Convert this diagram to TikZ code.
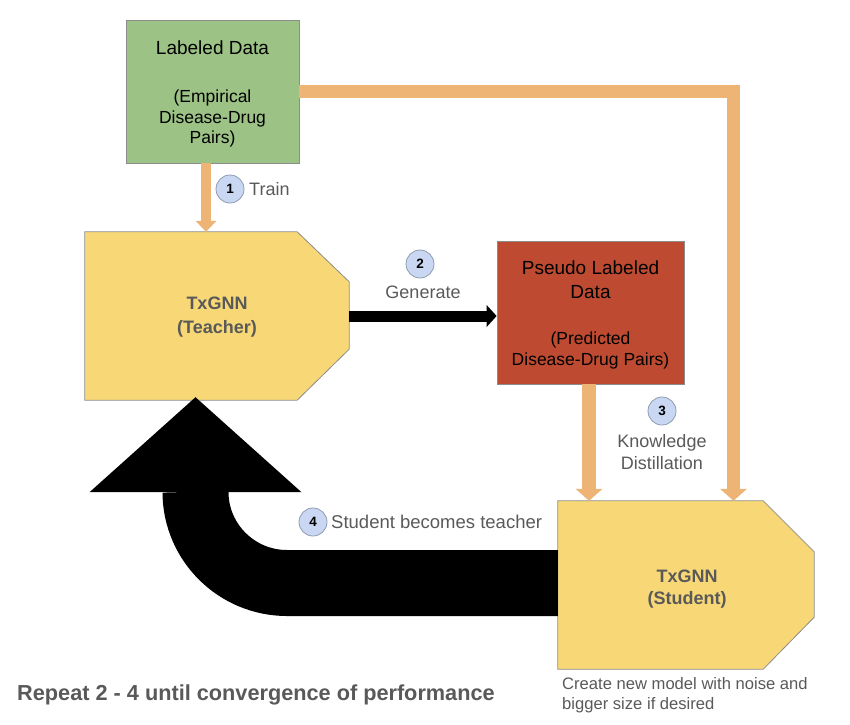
\documentclass[tikz,border=0pt]{standalone}
\usepackage{fontspec}
\setmainfont{Liberation Sans}
\usetikzlibrary{arrows.meta,backgrounds}
\definecolor{labgreen}{HTML}{9CC385}
\definecolor{pseudored}{HTML}{BE4B31}
\definecolor{txyellow}{HTML}{F8D876}
\definecolor{flow}{HTML}{EDB476}
\definecolor{edgegray}{HTML}{8C8C8C}
\definecolor{txtgray}{HTML}{595959}
\definecolor{circfill}{HTML}{C9D7F2}
\definecolor{circedge}{HTML}{8E9BB3}
\begin{document}
\begin{tikzpicture}[x=1pt,y=-1pt,
  databox/.style={draw=edgegray, line width=0.8pt, inner sep=0pt},
  datatext/.style={align=center, inner sep=0pt, font=\fontsize{17.5}{20.5}\selectfont},
  modelbox/.style={inner sep=0pt},
  modeltext/.style={align=center, inner sep=0pt, text=txtgray},
  modelshape/.style={fill=txyellow, draw=edgegray, line width=0.8pt, line join=miter},
  stepnum/.style={circle, draw=circedge, line width=0.8pt, fill=circfill,
    minimum size=28pt, inner sep=0pt, font=\bfseries\fontsize{13.5}{13.5}\selectfont},
  steplbl/.style={text=txtgray, inner sep=0pt, font=\fontsize{18}{22}\selectfont},
  flowarrow/.style={draw=flow, line width=13.5pt,
    -{Triangle[width=27pt,length=12pt,line width=0pt]}},
  trainarrow/.style={draw=flow, line width=10pt,
    -{Triangle[width=21pt,length=11pt,line width=0pt]}},
  genarrow/.style={draw=black, line width=11pt,
    -{Triangle[width=22pt,length=10pt,line width=0pt]}},
  bigarrow/.style={draw=black, line width=66pt,
    -{Triangle[width=212pt,length=95pt,line width=0pt]}},
  notetext/.style={text=txtgray, inner sep=0pt}
]
\useasboundingbox (0,0) rectangle (850,724);

% data boxes
\node[databox, fill=labgreen, minimum width=173pt, minimum height=143pt] (lab) at (212.5,91.5) {};
\node[datatext] (labtext) at (212.5,94)
  {{\fontsize{19}{20.5}\selectfont Labeled Data}\\[27.5pt](Empirical\\Disease-Drug\\Pairs)};
\node[databox, fill=pseudored, minimum width=187pt, minimum height=143pt] (red) at (590.5,312.5) {};
\node[datatext] (redtext) at (590.5,315)
  {{\fontsize{19}{20.5}\selectfont Pseudo Labeled}\\[3.5pt]{\fontsize{19}{20.5}\selectfont Data}\\[25.5pt](Predicted\\Disease-Drug Pairs)};

% model boxes
\node[modelbox, minimum width=264pt, minimum height=168pt] (teach) at (217,316) {};
\node[modelbox, minimum width=256pt, minimum height=168pt] (stud) at (686,585) {};

\begin{scope}[on background layer]
  \draw[modelshape] (teach.north west) -- ([xshift=-52pt]teach.north east)
    -- ([yshift=-50pt]teach.north east) -- ([yshift=51pt]teach.south east)
    -- ([xshift=-52pt]teach.south east) -- (teach.south west) -- cycle;
  \draw[modelshape] (stud.north west) -- ([xshift=-51pt]stud.north east)
    -- ([yshift=-51pt]stud.north east) -- ([yshift=52pt]stud.south east)
    -- ([xshift=-51pt]stud.south east) -- (stud.south west) -- cycle;
\end{scope}
\node[modeltext, font=\bfseries\fontsize{18}{24}\selectfont] (teachtext) at (217,317) {TxGNN\\(Teacher)};
\node[modeltext, font=\bfseries\fontsize{18}{22}\selectfont] (studtext) at (687,589) {TxGNN\\(Student)};

% connectors
\coordinate (trainstart) at ([xshift=-6.5pt]lab.south);
\draw[trainarrow] (trainstart) -- (trainstart |- teach.north);

\coordinate (s1) at ([xshift=47.5pt]stud.north);
\draw[flowarrow] (lab.east) -| (s1);

\coordinate (s2) at ([xshift=-1.5pt]red.south);
\draw[flowarrow] (s2) -- (s2 |- stud.north);

\draw[genarrow] (teach.east) -- (teach.east -| red.west);

\coordinate (bigstart) at ([yshift=2pt]stud.west);
\coordinate (bigtip) at ([xshift=-21.5pt,yshift=3pt]teach.south);
\draw[bigarrow] (bigstart) -- (287,583) .. controls (236.7,583) and (195.5,542.3) .. (195.5,492) -- (bigtip);

% step markers
\node[stepnum] (n1) at (230,189) {1};
\node[steplbl, anchor=base west] (l1) at (249,195.5) {Train};
\node[stepnum] (n2) at (420,264) {2};
\node[steplbl, anchor=base] (l2) at (423,298.5) {Generate};
\node[stepnum] (n3) at (662,411) {3};
\node[steplbl, align=center] (l3) at (662,452) {Knowledge\\Distillation};
\node[stepnum] (n4) at (313,522) {4};
\node[steplbl, anchor=base west, font=\fontsize{18.5}{22}\selectfont] (l4) at (331,528.5) {Student becomes teacher};

% notes
\node[notetext, anchor=north west, align=left, font=\fontsize{16.6}{20}\selectfont] (note) at (562,677)
  {Create new model with noise and\\bigger size if desired};
\node[notetext, anchor=base west, font=\bfseries\fontsize{21.7}{25}\selectfont] (rep) at (17,700.5)
  {Repeat 2 - 4 until convergence of performance};
\end{tikzpicture}
\end{document}
